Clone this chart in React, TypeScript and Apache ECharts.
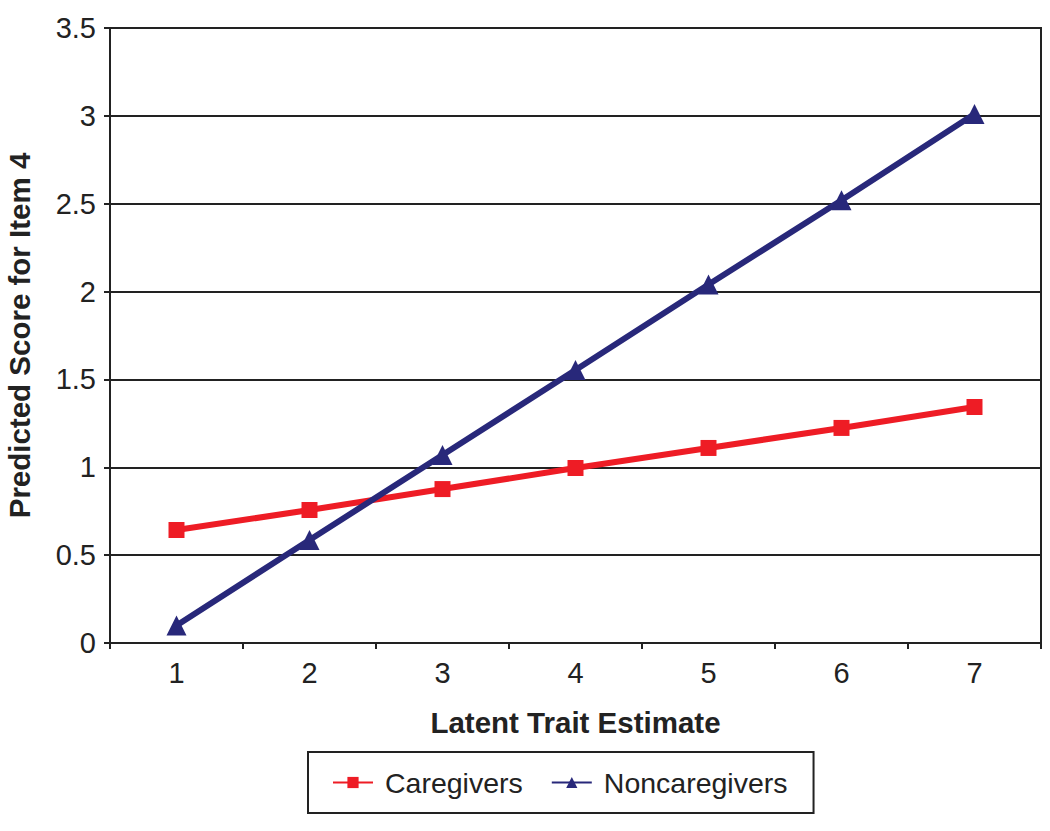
import React, { useEffect, useRef } from "react";
import * as echarts from "echarts";

const categories = ["1", "2", "3", "4", "5", "6", "7"];
const caregivers = [0.643, 0.757, 0.876, 0.996, 1.11, 1.224, 1.343];
const noncaregivers = [0.1, 0.586, 1.07, 1.554, 2.04, 2.52, 3.01];

export default function App() {
  const ref = useRef<HTMLDivElement>(null);
  useEffect(() => {
    const chart = echarts.init(ref.current!, null, { renderer: "svg" });
    const font = "Liberation Sans, Arial, Helvetica, sans-serif";
    chart.setOption({
      animation: false,
      backgroundColor: "#ffffff",
      textStyle: { fontFamily: font },
      grid: {
        left: 110,
        right: 9,
        top: 28,
        bottom: 188,
        outerBoundsMode: "none",
        containLabel: false,
        show: true,
        borderColor: "#222222",
        borderWidth: 2,
      },
      xAxis: {
        type: "category",
        data: categories,
        boundaryGap: true,
        name: "Latent Trait Estimate",
        nameLocation: "middle",
        nameGap: 64,
        nameTextStyle: { fontFamily: font, fontSize: 29.5, fontWeight: "bold", color: "#222" },
        axisLine: { show: true, lineStyle: { color: "#222", width: 2 } },
        axisTick: { show: true, length: 6, inside: false, lineStyle: { color: "#222", width: 2 } },
        axisLabel: { fontFamily: font, fontSize: 29, color: "#222", margin: 15 },
        splitLine: { show: false },
      },
      yAxis: {
        type: "value",
        min: 0,
        max: 3.5,
        interval: 0.5,
        name: "Predicted Score for Item 4",
        nameLocation: "middle",
        nameGap: 76,
        nameTextStyle: { fontFamily: font, fontSize: 29.5, fontWeight: "bold", color: "#222" },
        axisLine: { show: true, lineStyle: { color: "#222", width: 2 } },
        axisTick: { show: true, length: 6, inside: false, lineStyle: { color: "#222", width: 2 } },
        axisLabel: { fontFamily: font, fontSize: 29, color: "#222", margin: 14 },
        splitLine: { show: true, lineStyle: { color: "#222", width: 2, type: "solid" } },
      },
      legend: {
        data: ["Caregivers", "Noncaregivers"],
        left: 308,
        top: 752,
        orient: "horizontal",
        borderColor: "#222",
        borderWidth: 2,
        padding: [16, 26, 16, 24],
        itemGap: 28,
        itemWidth: 40,
        itemHeight: 14,
        textStyle: { fontFamily: font, fontSize: 28.5, color: "#222", padding: [0, 0, 0, 7] },
      },
      series: [
        {
          name: "Caregivers",
          type: "line",
          data: caregivers,
          symbol: "rect",
          symbolSize: 16,
          itemStyle: { color: "#EE1C25" },
          lineStyle: { color: "#EE1C25", width: 6 },
        },
        {
          name: "Noncaregivers",
          type: "line",
          data: noncaregivers,
          symbol: "triangle",
          symbolSize: 20,
          itemStyle: { color: "#28287A" },
          lineStyle: { color: "#28287A", width: 6 },
        },
      ],
    });
    return () => chart.dispose();
  }, []);
  return (
    <div
      ref={ref}
      style={{ position: "fixed", left: 0, top: 0, width: 1050, height: 831 }}
    />
  );
}
